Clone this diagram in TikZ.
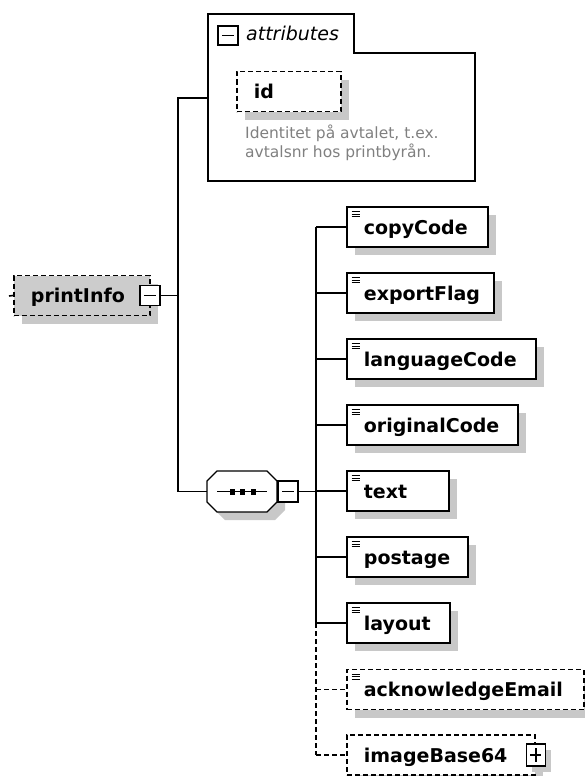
\documentclass[tikz,border=0pt]{standalone}
\usepackage{fontspec}
\setmainfont{DejaVu Sans}
\usetikzlibrary{shadows}
\definecolor{shadegray}{RGB}{200,200,200}
\definecolor{descgray}{RGB}{128,128,128}
\definecolor{rootgray}{RGB}{204,204,204}
\tikzset{
  elem/.style={draw, line width=1.8pt, fill=white, minimum height=40pt, inner ysep=0pt,
    inner xsep=17pt, align=left, anchor=west, text height=16pt, text depth=2pt,
    font=\fontsize{19}{22}\selectfont\bfseries,
    drop shadow={shadow xshift=8pt, shadow yshift=-8pt, fill=shadegray, opacity=1}},
  optelem/.style={elem, dash pattern=on 5pt off 3pt},
  toggle/.style={draw, line width=1.6pt, fill=white, minimum width=20pt,
    minimum height=20pt, inner sep=0pt},
  minus/.style={toggle, path picture={
    \draw[line width=1.6pt] ([xshift=4pt]path picture bounding box.west)
      -- ([xshift=-4pt]path picture bounding box.east);}},
  plus/.style={toggle, path picture={
    \draw[line width=1.6pt] ([xshift=4pt]path picture bounding box.west)
      -- ([xshift=-4pt]path picture bounding box.east);
    \draw[line width=1.6pt] ([yshift=-4pt]path picture bounding box.north)
      -- ([yshift=4pt]path picture bounding box.south);}},
  link/.style={line width=1.6pt},
  optlink/.style={link, dash pattern=on 5pt off 3pt},
  seqline/.style={line width=1.4pt, fill=white},
  simple/.style={line width=1.2pt}
}
\newcommand{\simpleicon}[1]{%
  \foreach \dy in {5.5,8,10.5}
    \draw[simple] ([shift={(5.5,\dy)}]#1.north west) -- ++(8.5,0);}

\begin{document}
\begin{tikzpicture}[x=1pt,y=-1pt]
  \useasboundingbox (0,0) rectangle (585,776);
  % root element
  \node[optelem, fill=rootgray, text width=102pt] (printInfo) at (13,295.5) {printInfo};
  \coordinate (pistub) at (9,296);
  \draw[link] (pistub) -- (printInfo.west);
  \node[minus] (pimin) at ([xshift=-1pt]printInfo.east) {};
  % attributes
  \draw[line width=1.8pt] (208,14) -- (354,14) -- (354,53) -- (475,53) -- (475,181)
    -- (208,181) -- cycle;
  \coordinate (attrbox) at (208,98);
  \node[minus, minimum height=19pt] (attrmin) at (228,35.5) {};
  \node[anchor=base west, inner sep=0pt, font=\fontsize{19}{22}\selectfont\itshape]
    (attrlbl) at (246,41) {attributes};
  \node[optelem, text width=70pt] (id) at (236,91.5) {id};
  \node[anchor=north west, inner sep=0pt, align=left, text=descgray,
    font=\fontsize{15.5}{19}\selectfont] (iddesc) at (245,125)
    {Identitet på avtalet, t.ex.\\avtalsnr hos printbyrån.};
  % sequence
  \node[minimum width=70pt, minimum height=41pt, inner sep=0pt] (seq) at (242,491.5) {};
  \fill[shadegray, shift={(8,8)}] (207,481) -- (217,471) -- (267,471) -- (277,481)
    -- (277,502) -- (267,512) -- (217,512) -- (207,502) -- cycle;
  \draw[seqline] (207,481) -- (217,471) -- (267,471) -- (277,481)
    -- (277,502) -- (267,512) -- (217,512) -- (207,502) -- cycle;
  \draw[simple] ([xshift=-25pt]seq.center) -- ([xshift=25pt]seq.center);
  \foreach \dx in {-10,0,11}
    \fill ([shift={(\dx-2.5,-3)}]seq.center) rectangle ++(5,6);
  \node[minus, minimum height=21pt, anchor=west] (seqmin) at (seq.east) {};
  \coordinate (spine) at (178,98);
  \coordinate (bus) at (316,491.5);
  \draw[link] (attrbox) -- (spine) -- (spine |- seq.west) -- (seq.west);
  \draw[link] (pimin.east) -- (spine |- pimin.east);
  \draw[link] (seqmin.east) -- (bus);
  % children
  \foreach \lbl/\w/\y in {copyCode/141/227, exportFlag/147/293, languageCode/189/359,
      originalCode/171/425, text/102/491, postage/121/557, layout/103/623}{
    \pgfmathsetmacro\tw{\w-34}
    \node[elem, text width=\tw pt] (\lbl) at (346,\y) {\lbl};
    \simpleicon{\lbl}
    \draw[link] (bus |- \lbl.west) -- (\lbl.west);
  }
  \node[optelem, text width=203pt] (ack) at (346,689.5) {acknowledgeEmail};
  \simpleicon{ack}
  \node[optelem, text width=154pt] (img) at (346,755) {imageBase64};
  \node[plus, minimum width=19pt, minimum height=22pt,
    drop shadow={shadow xshift=6pt, shadow yshift=-6pt, fill=shadegray, opacity=1}]
    (imgplus) at (img.east) {};
  \draw[link] (bus |- copyCode.west) -- (bus |- layout.west);
  \draw[optlink] (bus |- layout.west) -- (bus |- img.west);
  \draw[optlink] (bus |- ack.west) -- (ack.west);
  \draw[optlink] (bus |- img.west) -- (img.west);
\end{tikzpicture}
\end{document}
